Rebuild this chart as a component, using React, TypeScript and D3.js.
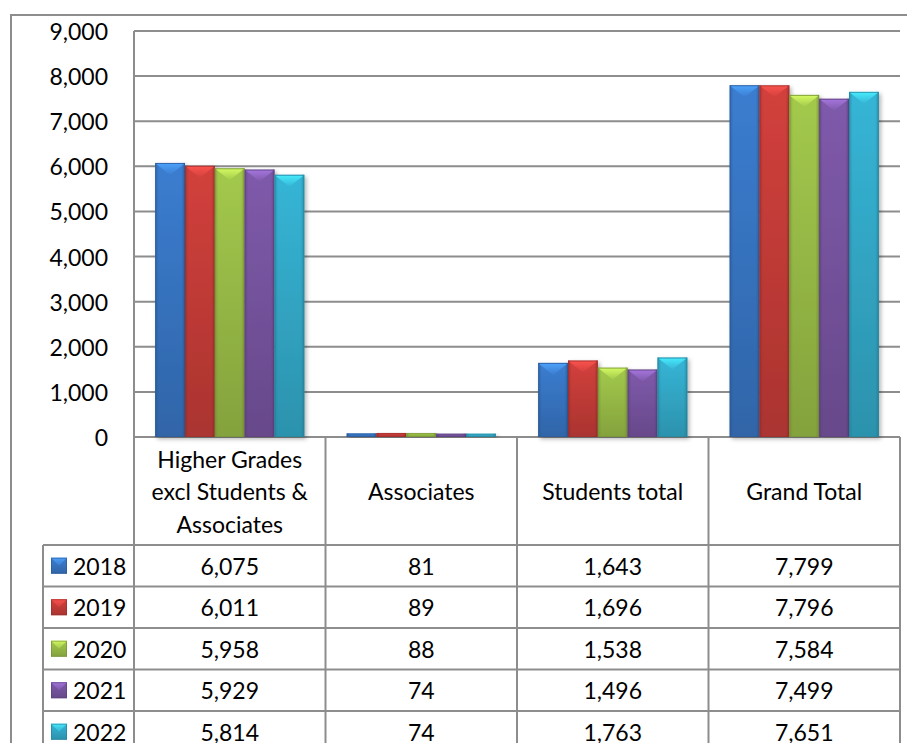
import * as d3 from "d3";

const categories = [
  ["Higher Grades", "excl Students &", "Associates"],
  ["Associates"],
  ["Students total"],
  ["Grand Total"],
];
const years = ["2018", "2019", "2020", "2021", "2022"];
const v2018 = [6075, 81, 1643, 7799];
const v2019 = [6011, 89, 1696, 7796];
const v2020 = [5958, 88, 1538, 7584];
const v2021 = [5929, 74, 1496, 7499];
const v2022 = [5814, 74, 1763, 7651];
const seriesValues = [v2018, v2019, v2020, v2021, v2022];
const yTicks = [0, 1000, 2000, 3000, 4000, 5000, 6000, 7000, 8000, 9000];

const colors = ["#3b7dd0", "#d2403c", "#a3c94c", "#7f5aab", "#36b5d6"];

const WIDTH = 907;
const HEIGHT = 743;
const PLOT = { left: 134, right: 900, top: 31, bottom: 437 };
const LEGEND_LEFT = 43;
const HEADER_BOTTOM = 545;
const ROW_H = 41.5;
const GRID = "#8d8d8d";
const FONT = "Lato, Carlito, Calibri, sans-serif";

const fmt = d3.format(",");

export default function App() {
  const catIdx = categories.map((_, i) => String(i));
  const x0 = d3
    .scaleBand()
    .domain(catIdx)
    .range([PLOT.left, PLOT.right])
    .paddingInner(0)
    .paddingOuter(0);
  const x1 = d3
    .scaleBand()
    .domain(years)
    .range([0, x0.bandwidth()])
    .paddingOuter(0.71);
  const y = d3.scaleLinear().domain([0, 9000]).range([PLOT.bottom, PLOT.top]);

  const colEdges = [...catIdx.map((c) => x0(c) as number), PLOT.right];
  const rowLines = years.map((_, i) => HEADER_BOTTOM + i * ROW_H);

  const bevel = (x: number, top: number, w: number, h: number) => {
    const d = Math.min(12, h / 2, w / 2);
    return `M${x + 1},${top + 1}L${x + w - 1},${top + 1}L${x + w / 2},${top + d}Z`;
  };

  return (
    <svg
      width={WIDTH}
      height={HEIGHT}
      style={{ position: "absolute", left: 0, top: 0, display: "block", background: "#fff" }}
    >
      <defs>
        {colors.map((c, i) => {
          const dark = d3.color(c)!.darker(0.6).formatHex();
          const darker = d3.color(c)!.darker(1.1).formatHex();
          const light = d3.color(c)!.brighter(0.8).formatHex();
          return (
            <g key={i}>
              <linearGradient id={`v${i}`} x1="0" y1="0" x2="0" y2="1">
                <stop offset="0" stopColor={c} />
                <stop offset="1" stopColor={dark} />
              </linearGradient>
              <linearGradient id={`h${i}`} x1="0" y1="0" x2="1" y2="0">
                <stop offset="0" stopColor={darker} stopOpacity={0.55} />
                <stop offset="0.12" stopColor={darker} stopOpacity={0} />
                <stop offset="0.88" stopColor={darker} stopOpacity={0} />
                <stop offset="1" stopColor={darker} stopOpacity={0.6} />
              </linearGradient>
              <linearGradient id={`b${i}`} x1="0" y1="0" x2="0" y2="1">
                <stop offset="0" stopColor={light} />
                <stop offset="1" stopColor={c} />
              </linearGradient>
            </g>
          );
        })}
        <filter id="shadow" x="-20%" y="-5%" width="140%" height="115%">
          <feDropShadow dx="2" dy="2" stdDeviation="2" floodColor="#000" floodOpacity="0.3" />
        </filter>
      </defs>

      {/* outer chart border */}
      <path d={`M11,${HEIGHT}V15H${WIDTH}`} fill="none" stroke={GRID} strokeWidth={2} />

      {/* gridlines */}
      {yTicks.map((t) => (
        <line key={t} x1={PLOT.left} x2={PLOT.right} y1={y(t)} y2={y(t)} stroke={GRID} strokeWidth={2} />
      ))}
      <line x1={PLOT.left} x2={PLOT.left} y1={PLOT.top} y2={PLOT.bottom} stroke={GRID} strokeWidth={2} />

      {/* y labels */}
      {yTicks.map((t) => (
        <text
          key={t}
          x={108}
          y={y(t)}
          textAnchor="end"
          dominantBaseline="central"
          fontFamily={FONT}
          fontSize={23}
          fill="#000"
        >
          {fmt(t)}
        </text>
      ))}

      {/* bars */}
      {seriesValues.map((vals, s) =>
        vals.map((v, c) => {
          const bx = (x0(String(c)) as number) + (x1(years[s]) as number);
          const bw = x1.bandwidth();
          const top = y(v);
          const h = y(0) - top;
          return (
            <g key={`${s}-${c}`}>
              <rect x={bx} y={top} width={bw} height={h} fill={`url(#v${s})`} filter="url(#shadow)" />
              <rect x={bx} y={top} width={bw} height={h} fill={`url(#h${s})`} />
              {h > 6 && <path d={bevel(bx, top, bw, h)} fill={`url(#b${s})`} opacity={0.85} />}
              <rect
                x={bx + 0.5}
                y={top + 0.5}
                width={bw - 1}
                height={Math.max(0, h - 1)}
                fill="none"
                stroke={d3.color(colors[s])!.darker(1).formatHex()}
                strokeOpacity={0.5}
                strokeWidth={1}
              />
            </g>
          );
        })
      )}

      {/* data table lines */}
      {colEdges.map((xe, i) => (
        <line key={`c${i}`} x1={xe} x2={xe} y1={PLOT.bottom} y2={HEIGHT} stroke={GRID} strokeWidth={2} />
      ))}
      <line x1={LEGEND_LEFT} x2={LEGEND_LEFT} y1={HEADER_BOTTOM} y2={HEIGHT} stroke={GRID} strokeWidth={2} />
      {rowLines.map((ry, i) => (
        <line key={`r${i}`} x1={LEGEND_LEFT} x2={PLOT.right} y1={ry} y2={ry} stroke={GRID} strokeWidth={2} />
      ))}

      {/* category headers */}
      {categories.map((lines, c) => {
        const cx = (x0(String(c)) as number) + x0.bandwidth() / 2;
        const cy = (PLOT.bottom + HEADER_BOTTOM) / 2;
        const lh = 32.5;
        return (
          <text key={c} textAnchor="middle" fontFamily={FONT} fontSize={23} fill="#000">
            {lines.map((ln, i) => (
              <tspan key={i} x={cx} y={cy + (i - (lines.length - 1) / 2) * lh} dominantBaseline="central">
                {ln}
              </tspan>
            ))}
          </text>
        );
      })}

      {/* rows */}
      {years.map((yr, s) => {
        const cy = HEADER_BOTTOM + s * ROW_H + ROW_H / 2;
        const kx = 51;
        const ks = 16;
        return (
          <g key={yr}>
            <rect x={kx} y={cy - ks / 2} width={ks} height={ks} fill={`url(#v${s})`} />
            <path
              d={`M${kx},${cy - ks / 2}L${kx + ks},${cy - ks / 2}L${kx + ks / 2},${cy}Z`}
              fill={`url(#b${s})`}
              opacity={0.85}
            />
            <rect
              x={kx + 0.5}
              y={cy - ks / 2 + 0.5}
              width={ks - 1}
              height={ks - 1}
              fill="none"
              stroke={d3.color(colors[s])!.darker(1).formatHex()}
              strokeOpacity={0.6}
            />
            <text x={73} y={cy} dominantBaseline="central" fontFamily={FONT} fontSize={23} fill="#000">
              {yr}
            </text>
            {seriesValues[s].map((v, c) => (
              <text
                key={c}
                x={(x0(String(c)) as number) + x0.bandwidth() / 2}
                y={cy}
                textAnchor="middle"
                dominantBaseline="central"
                fontFamily={FONT}
                fontSize={23}
                fill="#000"
              >
                {fmt(v)}
              </text>
            ))}
          </g>
        );
      })}
    </svg>
  );
}
